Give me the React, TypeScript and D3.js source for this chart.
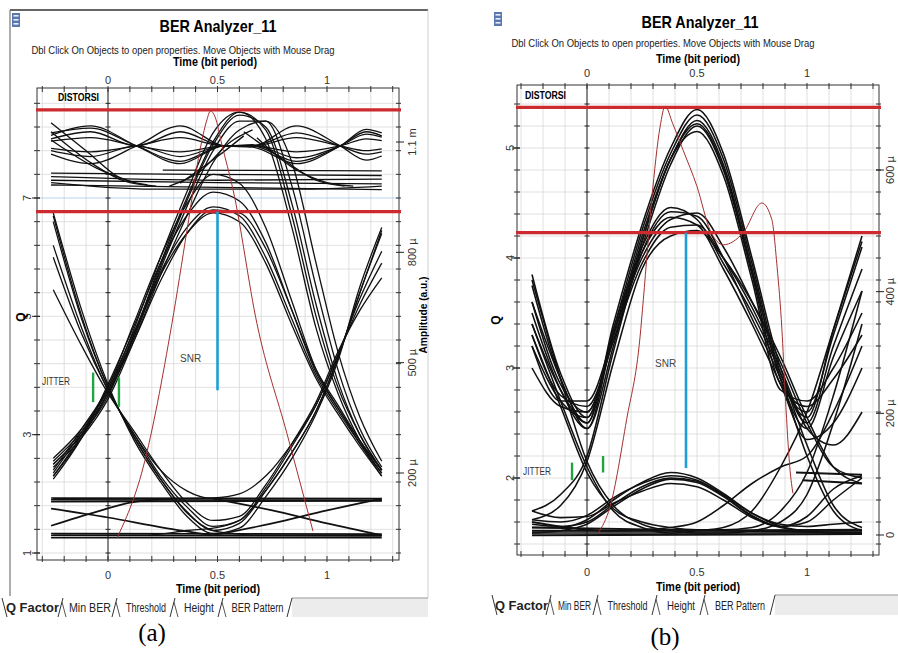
import React, { useEffect, useRef } from 'react';
import * as d3 from 'd3';

type Pt = [number, number];

const NARROW = "'Liberation Sans Narrow', 'Arial Narrow', 'Liberation Sans', Arial, sans-serif";
const SERIF = "'Liberation Serif', 'Times New Roman', serif";

const TITLE = 'BER Analyzer_11';
const SUBTITLE = 'Dbl Click On Objects to open properties.  Move Objects with Mouse Drag';
const X_TITLE = 'Time (bit period)';
const TABS = ['Q Factor', 'Min BER', 'Threshold', 'Height', 'BER Pattern'];
const TIME_TICKS = [0, 0.5, 1];

// ---------- panel (a) ----------
const A_Q_TICKS = [1, 3, 5, 7];
const A_AMP_TICKS = [200, 500, 800, 1100];
const A_AMP_LABELS = ['200 µ', '500 µ', '800 µ', '1.1 m'];
const A_RED_Q = [8.49, 6.77];
const A_SNR: [number, number, number] = [0.5, 6.77, 3.75];
const A_JITTER: [number, number, number][] = [[-0.068, 4.05, 3.55], [0.05, 3.97, 3.47]];

const A_WAVE_T = [-0.26, -0.08, 0.13, 0.33, 0.53, 0.66, 0.86, 1.06, 1.18, 1.25];
const A_WAVE_Q = [
  [8.06, 8.22, 7.88, 7.58, 7.88, 7.88, 8.22, 7.88, 7.64, 7.71],
  [8.0, 8.12, 7.88, 8.12, 7.88, 7.9, 7.68, 7.88, 8.08, 8.03],
  [7.74, 7.58, 7.88, 8.22, 7.88, 7.86, 7.58, 7.88, 8.16, 8.1],
  [7.8, 7.7, 7.88, 7.7, 7.88, 7.88, 8.1, 7.88, 7.74, 7.78],
  [7.96, 8.02, 7.88, 7.78, 7.88, 7.88, 8.02, 7.88, 7.8, 7.83],
  [7.84, 7.78, 7.88, 8.02, 7.88, 7.88, 7.78, 7.88, 8.0, 7.97],
  [8.1, 8.18, 7.88, 7.62, 7.88, 7.88, 7.62, 7.88, 8.12, 8.05],
];
const A_FLAT: Pt[][] = [
  [[-0.26, 7.42], [0.4, 7.4], [1.25, 7.38]],
  [[-0.26, 7.36], [0.5, 7.3], [1.25, 7.32]],
  [[-0.26, 7.3], [0.5, 7.26], [1.25, 7.24]],
  [[-0.26, 7.26], [0.2, 7.15], [0.9, 7.15], [1.25, 7.2]],
  [[0.25, 7.47], [1.25, 7.46]],
  [[-0.26, 7.22], [0.5, 7.18], [1.25, 7.14]],
];
const A_DROP: Pt[][] = [
  [[-0.26, 8.27], [-0.1, 7.8], [0.05, 7.35], [0.18, 7.22]],
  [[-0.26, 8.12], [-0.08, 7.6], [0.08, 7.28], [0.22, 7.2]],
  [[-0.26, 7.98], [-0.05, 7.5], [0.12, 7.26]],
  [[0.62, 8.12], [0.8, 7.65], [0.95, 7.3], [1.08, 7.2]],
  [[0.68, 8.02], [0.85, 7.5], [1.0, 7.26], [1.12, 7.2]],
  [[0.28, 7.2], [0.42, 7.45], [0.56, 7.95], [0.66, 8.15]],
  [[0.33, 7.25], [0.5, 7.7], [0.62, 8.05]],
];
const A_PULSE_T = [-0.25, -0.12, 0, 0.12, 0.24, 0.36, 0.48, 0.6, 0.72, 0.84, 0.95, 1.05, 1.15, 1.25];
const A_HIGH_Q = [
  [2.5, 3.0, 3.65, 4.7, 5.9, 7.0, 7.95, 8.45, 8.15, 6.7, 5.0, 3.8, 3.0, 2.4],
  [2.55, 3.05, 3.7, 4.65, 5.8, 6.85, 7.8, 8.3, 8.3, 7.2, 5.5, 4.1, 3.1, 2.45],
  [2.45, 2.95, 3.6, 4.6, 5.7, 6.7, 7.6, 8.15, 8.3, 7.6, 5.9, 4.4, 3.3, 2.55],
  [2.6, 3.1, 3.75, 4.8, 6.0, 7.1, 8.1, 8.45, 8.0, 6.5, 4.8, 3.7, 2.9, 2.35],
  [2.5, 3.0, 3.7, 4.7, 5.85, 6.95, 7.9, 8.4, 8.2, 6.9, 5.2, 3.9, 3.0, 2.4],
];
const A_LOW_Q = [
  [2.3, 3.0, 3.8, 4.75, 5.75, 6.5, 6.85, 6.7, 6.0, 4.95, 4.0, 3.4, 2.85, 2.35],
  [2.35, 3.05, 3.75, 4.7, 5.7, 6.4, 6.75, 6.6, 5.9, 4.85, 3.95, 3.35, 2.8, 2.3],
  [2.25, 2.95, 3.85, 4.85, 5.9, 6.7, 7.1, 6.95, 6.25, 5.1, 4.05, 3.45, 2.9, 2.4],
  [2.4, 3.1, 3.8, 4.9, 6.0, 6.9, 7.4, 7.25, 6.5, 5.25, 4.1, 3.45, 2.85, 2.3],
  [2.3, 2.95, 3.7, 4.6, 5.6, 6.4, 6.8, 6.75, 6.15, 5.1, 4.1, 3.5, 2.9, 2.4],
];
const A_EDGE_Q = [
  [6.7, 5.0, 3.8, 2.95, 2.25, 1.7, 1.38, 1.5, 2.05, 2.7, 3.4, 4.3, 5.4, 6.45],
  [6.0, 4.7, 3.75, 3.0, 2.3, 1.78, 1.45, 1.55, 2.1, 2.8, 3.5, 4.35, 5.2, 5.9],
  [5.45, 4.5, 3.7, 3.05, 2.4, 1.85, 1.55, 1.62, 2.15, 2.85, 3.55, 4.4, 5.1, 5.65],
  [6.75, 5.1, 3.85, 2.9, 2.2, 1.62, 1.33, 1.42, 1.95, 2.6, 3.35, 4.25, 5.5, 6.5],
  [6.6, 4.95, 3.8, 2.95, 2.25, 1.68, 1.38, 1.32, 1.3, 1.3, 1.3, 1.3, 1.3, 1.3],
  [6.2, 4.8, 3.75, 3.0, 2.4, 2.05, 1.92, 1.92, 1.92, 1.92, 1.92, 1.92, 1.92, 1.92],
  [1.3, 1.3, 1.3, 1.3, 1.32, 1.38, 1.42, 1.55, 2.05, 2.7, 3.4, 4.3, 5.4, 6.4],
  [1.92, 1.92, 1.92, 1.92, 1.92, 1.92, 1.93, 2.0, 2.3, 2.85, 3.5, 4.35, 5.3, 6.1],
];
const A_LEVELS: Pt[][] = [
  [[-0.26, 1.93], [1.25, 1.92]],
  [[-0.26, 1.9], [1.25, 1.89]],
  [[-0.26, 1.87], [1.25, 1.88]],
  [[-0.26, 1.33], [1.25, 1.32]],
  [[-0.26, 1.3], [1.25, 1.29]],
  [[-0.26, 1.26], [1.25, 1.26]],
  [[-0.26, 1.46], [-0.05, 1.7], [0.1, 1.85], [0.3, 1.92]],
  [[-0.26, 1.75], [0.0, 1.6], [0.25, 1.43], [0.48, 1.3]],
  [[0.48, 1.3], [0.75, 1.5], [1.0, 1.72], [1.25, 1.92]],
  [[0.48, 1.92], [0.75, 1.72], [1.0, 1.5], [1.25, 1.3]],
];
const A_BROWN: Pt[] = [
  [0.041, 1.25], [0.16, 2.44], [0.292, 4.88], [0.361, 6.46], [0.42, 7.81], [0.45, 8.3],
  [0.468, 8.47], [0.489, 8.37], [0.52, 7.9], [0.571, 7.14], [0.68, 4.88], [0.817, 3.02], [0.936, 1.37],
];

// ---------- panel (b) ----------
const B_Q_TICKS = [2, 3, 4, 5];
const B_AMP_TICKS = [0, 200, 400, 600];
const B_AMP_LABELS = ['0', '200 µ', '400 µ', '600 µ'];
const B_RED_Q = [5.37, 4.23];
const B_SNR: [number, number, number] = [0.45, 4.23, 2.09];
const B_JITTER: [number, number, number][] = [[-0.068, 2.14, 1.98], [0.073, 2.2, 2.05]];

const B_PULSE_T = [-0.25, -0.12, 0, 0.12, 0.25, 0.38, 0.5, 0.62, 0.75, 0.88, 1.0, 1.12, 1.25];
const B_HIGH_Q = [
  [3.85, 2.95, 2.55, 3.35, 4.25, 4.95, 5.3, 4.9, 3.95, 2.95, 2.55, 3.35, 4.2],
  [3.6, 2.85, 2.6, 3.3, 4.2, 4.9, 5.25, 4.85, 3.9, 2.9, 2.6, 3.3, 4.1],
  [3.3, 2.75, 2.65, 3.25, 4.1, 4.85, 5.2, 4.8, 3.85, 2.85, 2.65, 2.9, 3.3],
  [3.2, 2.7, 2.7, 3.3, 4.15, 4.9, 5.15, 4.75, 3.8, 2.8, 2.7, 3.0, 3.5],
  [3.75, 2.9, 2.5, 3.4, 4.3, 5.0, 5.35, 4.95, 4.0, 3.0, 2.5, 3.2, 3.9],
  [3.5, 2.8, 2.45, 3.2, 4.15, 4.9, 5.22, 4.82, 3.88, 2.9, 2.45, 3.1, 3.7],
];
const B_MID_Q = [
  [3.4, 2.8, 2.5, 3.35, 4.1, 4.46, 4.35, 3.95, 3.5, 2.95, 2.3, 1.75, 1.55],
  [3.2, 2.7, 2.55, 3.3, 4.0, 4.35, 4.41, 4.1, 3.6, 3.05, 2.5, 2.1, 2.0],
  [3.0, 2.65, 2.6, 3.25, 3.95, 4.28, 4.3, 4.0, 3.55, 3.0, 2.45, 2.3, 2.6],
  [3.6, 2.9, 2.45, 3.3, 4.05, 4.37, 4.3, 3.9, 3.4, 2.85, 2.35, 2.5, 3.0],
  [1.62, 1.75, 2.15, 3.05, 3.9, 4.2, 4.25, 4.0, 3.6, 3.1, 2.55, 2.1, 1.95],
  [1.7, 1.85, 2.2, 3.15, 4.05, 4.42, 4.38, 4.0, 3.45, 2.9, 2.2, 1.7, 1.52],
];
const B_EDGE_Q = [
  [3.8, 2.9, 2.15, 1.75, 1.58, 1.52, 1.5, 1.5, 1.5, 1.5, 1.5, 1.5, 1.5],
  [3.4, 2.7, 2.1, 1.7, 1.55, 1.5, 1.5, 1.5, 1.52, 1.6, 1.85, 2.5, 3.4],
  [3.3, 2.65, 2.05, 1.72, 1.6, 1.55, 1.53, 1.53, 1.55, 1.7, 2.05, 2.75, 3.7],
  [1.5, 1.5, 1.5, 1.5, 1.5, 1.5, 1.52, 1.55, 1.7, 2.1, 2.6, 3.35, 4.15],
  [1.52, 1.52, 1.52, 1.52, 1.53, 1.55, 1.6, 1.75, 1.95, 2.1, 2.2, 2.6, 3.2],
];
const B_HUMP_Q = [
  [1.55, 1.55, 1.62, 1.8, 1.96, 2.05, 2.0, 1.86, 1.68, 1.56, 1.52, 1.5, 1.5],
  [1.5, 1.52, 1.58, 1.74, 1.9, 1.99, 1.96, 1.83, 1.65, 1.55, 1.52, 1.52, 1.52],
  [1.62, 1.6, 1.66, 1.82, 1.95, 2.02, 1.98, 1.85, 1.68, 1.58, 1.56, 1.58, 1.6],
  [1.7, 1.64, 1.65, 1.77, 1.88, 1.95, 1.92, 1.8, 1.64, 1.56, 1.6, 1.8, 2.0],
  [1.58, 1.56, 1.6, 1.76, 1.92, 2.0, 1.97, 1.84, 1.66, 1.56, 1.65, 1.9, 2.02],
];
const B_LEVELS: Pt[][] = [
  [[-0.25, 1.52], [1.25, 1.52]],
  [[-0.25, 1.55], [1.25, 1.5]],
  [[-0.25, 1.48], [1.25, 1.49]],
  [[-0.25, 1.6], [0.1, 1.52], [1.25, 1.53]],
  [[0.95, 2.05], [1.25, 2.03]],
  [[0.98, 1.98], [1.25, 1.95]],
];
const B_BROWN: Pt[] = [
  [0.051, 1.5], [0.105, 1.74], [0.18, 2.53], [0.241, 3.28], [0.256, 3.62], [0.294, 4.53], [0.332, 5.19],
  [0.355, 5.38], [0.39, 5.22], [0.437, 4.98], [0.5, 4.65], [0.56, 4.25], [0.62, 4.12], [0.71, 4.23],
  [0.795, 4.5], [0.84, 4.35], [0.864, 3.92], [0.886, 3.35], [0.9, 2.8], [0.923, 2.07], [0.936, 1.86],
];

const rowsToLines = (t: number[], rows: number[][]): Pt[][] => rows.map(r => r.map((q, i) => [t[i], q] as Pt));

const PANELS = [
  {
    id: 'a',
    frame: { x0: 37, x1: 399, y0: 88, y1: 560 },
    xRange: [108, 327], qDomain: [1, 7], qRange: [553, 198],
    gridQ: [1, 8.6, 0.4], blueGridQ: 7,
    qTicks: A_Q_TICKS, qLabelX: 31, qTitle: [25, 317],
    ampDomain: [200, 1100], ampRange: [473, 142], ampTicks: A_AMP_TICKS, ampLabels: A_AMP_LABELS,
    ampLabelX: 416, ampTitle: [427, 315],
    red: A_RED_Q, snr: A_SNR, jitter: A_JITTER,
    traces: [
      ...rowsToLines(A_WAVE_T, A_WAVE_Q), ...A_FLAT, ...A_DROP,
      ...rowsToLines(A_PULSE_T, A_HIGH_Q), ...rowsToLines(A_PULSE_T, A_LOW_Q),
      ...rowsToLines(A_PULSE_T, A_EDGE_Q),
    ],
    levels: A_LEVELS, brown: A_BROWN, traceW: 1.3,
    title: [218, 32], sub: [183, 54], subW: 303, xTitleTop: [215, 66], xTitleBot: [218, 593],
    tickTop: 84, tickBot: 579,
    distorsi: [58, 101], jitterText: [42, 385], snrText: [180, 362],
    tabs: [2, 63, 117, 175, 223, 292], tabW: [53, 42, 40, 30, 52], tabY: [598, 617], tabEnd: 428,
    caption: ['(a)', 152, 641],
    chrome: true, icon: [12, 13],
  },
  {
    id: 'b',
    frame: { x0: 517, x1: 879, y0: 85, y1: 555 },
    xRange: [587, 807], qDomain: [2, 5], qRange: [478, 148],
    gridQ: [1.4, 5.4, 0.2], blueGridQ: null,
    qTicks: B_Q_TICKS, qLabelX: 514, qTitle: [500, 320],
    ampDomain: [0, 600], ampRange: [535, 170], ampTicks: B_AMP_TICKS, ampLabels: B_AMP_LABELS,
    ampLabelX: 894, ampTitle: null,
    red: B_RED_Q, snr: B_SNR, jitter: B_JITTER,
    traces: [
      ...rowsToLines(B_PULSE_T, B_HIGH_Q), ...rowsToLines(B_PULSE_T, B_MID_Q),
      ...rowsToLines(B_PULSE_T, B_EDGE_Q), ...rowsToLines(B_PULSE_T, B_HUMP_Q),
    ],
    levels: B_LEVELS, brown: B_BROWN, traceW: 1.55,
    title: [700, 28], sub: [663, 47], subW: 303, xTitleTop: [698, 63], xTitleBot: [698, 591],
    tickTop: 77, tickBot: 576,
    distorsi: [525, 99], jitterText: [523, 475], snrText: [655, 367],
    tabs: [492, 551, 598, 657, 705, 775], tabW: [53, 33, 40, 28, 50], tabY: [595, 615], tabEnd: 898,
    caption: ['(b)', 665, 645],
    chrome: false, icon: [494, 12],
  },
];

function drawPanel(svg: any, P: any) {
  const g = svg.append('g');
  const x = d3.scaleLinear().domain([0, 1]).range(P.xRange);
  const y = d3.scaleLinear().domain(P.qDomain).range(P.qRange);
  const amp = d3.scaleLinear().domain(P.ampDomain).range(P.ampRange);
  const { x0, x1, y0, y1 } = P.frame;

  const clipId = `clip-${P.id}`;
  g.append('clipPath').attr('id', clipId).append('rect')
    .attr('x', x0).attr('y', y0).attr('width', x1 - x0).attr('height', y1 - y0);

  // window chrome
  if (P.chrome) {
    g.append('line').attr('x1', 10).attr('x2', 428).attr('y1', 10).attr('y2', 10).attr('stroke', '#666').attr('stroke-width', 2);
    g.append('line').attr('x1', 10).attr('x2', 10).attr('y1', 10).attr('y2', 596).attr('stroke', '#777').attr('stroke-width', 1.2);
    g.append('line').attr('x1', 428).attr('x2', 428).attr('y1', 10).attr('y2', 598).attr('stroke', '#d0d0d0');
  }
  const [ix, iy] = P.icon;
  g.append('rect').attr('x', ix).attr('y', iy).attr('width', 8).attr('height', 14).attr('fill', '#5a78b0');
  [3, 7, 11].forEach(d => g.append('rect').attr('x', ix + 1.5).attr('y', iy + d - 1).attr('width', 5).attr('height', 1.6).attr('fill', '#e8eef8'));

  // titles
  g.append('text').attr('x', P.title[0]).attr('y', P.title[1]).attr('text-anchor', 'middle')
    .style('font-family', NARROW).style('font-size', '17px').style('font-weight', 'bold')
    .attr('textLength', 117).attr('lengthAdjust', 'spacingAndGlyphs').text(TITLE);
  g.append('text').attr('x', P.sub[0]).attr('y', P.sub[1]).attr('text-anchor', 'middle')
    .style('font-family', NARROW).style('font-size', '11px').style('fill', '#222')
    .attr('textLength', P.subW).attr('lengthAdjust', 'spacingAndGlyphs').text(SUBTITLE);
  [P.xTitleTop, P.xTitleBot].forEach(([tx, ty]: number[]) => {
    g.append('text').attr('x', tx).attr('y', ty).attr('text-anchor', 'middle')
      .style('font-family', NARROW).style('font-size', '12px').style('font-weight', 'bold')
      .attr('textLength', 84).attr('lengthAdjust', 'spacingAndGlyphs').text(X_TITLE);
  });

  // grid
  const tGrid = d3.range(-3, 14).map(i => i / 10).filter(t => x(t) > x0 + 1 && x(t) < x1 - 1);
  const [gq0, gq1, gqs] = P.gridQ;
  const qGrid = d3.range(gq0, gq1 + 1e-6, gqs).filter(q => y(q) > y0 + 1 && y(q) < y1 - 1);
  g.append('rect').attr('x', x0).attr('y', y0).attr('width', x1 - x0).attr('height', y1 - y0).attr('fill', '#fff');
  tGrid.forEach(t => g.append('line').attr('x1', x(t)).attr('x2', x(t)).attr('y1', y0).attr('y2', y1)
    .attr('stroke', '#d8d8d8').attr('stroke-width', 0.8));
  qGrid.forEach(q => g.append('line').attr('x1', x0).attr('x2', x1).attr('y1', y(q)).attr('y2', y(q))
    .attr('stroke', P.blueGridQ !== null && Math.abs(q - P.blueGridQ) < 1e-6 ? '#a9c8ea' : '#d8d8d8').attr('stroke-width', 0.8));
  // inner axis at t = 0
  g.append('line').attr('x1', x(0)).attr('x2', x(0)).attr('y1', y0).attr('y2', y1).attr('stroke', '#222').attr('stroke-width', 1);
  qGrid.forEach(q => g.append('line').attr('x1', x(0) - 2.5).attr('x2', x(0) + 2.5).attr('y1', y(q)).attr('y2', y(q)).attr('stroke', '#222'));

  // frame + ticks
  g.append('rect').attr('x', x0).attr('y', y0).attr('width', x1 - x0).attr('height', y1 - y0)
    .attr('fill', 'none').attr('stroke', '#333').attr('stroke-width', 1);
  tGrid.forEach(t => {
    g.append('line').attr('x1', x(t)).attr('x2', x(t)).attr('y1', y0 - 2).attr('y2', y0 + 4).attr('stroke', '#333');
    g.append('line').attr('x1', x(t)).attr('x2', x(t)).attr('y1', y1 - 4).attr('y2', y1 + 2).attr('stroke', '#333');
  });
  qGrid.forEach(q => {
    g.append('line').attr('x1', x0 - 3).attr('x2', x0 + 3).attr('y1', y(q)).attr('y2', y(q)).attr('stroke', '#333');
    g.append('line').attr('x1', x1 - 3).attr('x2', x1 + 2).attr('y1', y(q)).attr('y2', y(q)).attr('stroke', '#333');
  });
  P.qTicks.forEach((q: number) => g.append('line').attr('x1', x0 - 5).attr('x2', x0 + 3).attr('y1', y(q)).attr('y2', y(q)).attr('stroke', '#222'));
  P.ampTicks.forEach((a: number) => g.append('line').attr('x1', x1 - 3).attr('x2', x1 + 5).attr('y1', amp(a)).attr('y2', amp(a)).attr('stroke', '#222'));

  // tick labels
  TIME_TICKS.forEach(t => {
    [P.tickTop, P.tickBot].forEach((ty: number) => g.append('text').attr('x', x(t)).attr('y', ty).attr('text-anchor', 'middle')
      .style('font-family', NARROW).style('font-size', '11px').style('fill', '#333').text(String(t)));
  });
  P.qTicks.forEach((q: number) => g.append('text').attr('transform', `translate(${P.qLabelX},${y(q)}) rotate(-90)`)
    .attr('text-anchor', 'middle').style('font-family', NARROW).style('font-size', '11px').style('fill', '#333').text(String(q)));
  g.append('text').attr('transform', `translate(${P.qTitle[0]},${P.qTitle[1]}) rotate(-90)`)
    .attr('text-anchor', 'middle').style('font-family', NARROW).style('font-size', '12px').style('font-weight', 'bold').text('Q');
  P.ampTicks.forEach((a: number, i: number) => g.append('text').attr('transform', `translate(${P.ampLabelX},${amp(a)}) rotate(-90)`)
    .attr('text-anchor', 'middle').style('font-family', NARROW).style('font-size', '11px').style('fill', '#333').text(P.ampLabels[i]));
  if (P.ampTitle) {
    g.append('text').attr('transform', `translate(${P.ampTitle[0]},${P.ampTitle[1]}) rotate(-90)`)
      .attr('text-anchor', 'middle').style('font-family', NARROW).style('font-size', '11px').style('font-weight', 'bold')
      .attr('textLength', 77).attr('lengthAdjust', 'spacingAndGlyphs').text('Amplitude (a.u.)');
  }

  // eye traces
  const plot = g.append('g').attr('clip-path', `url(#${clipId})`);
  const smooth = d3.line<Pt>().x(d => x(d[0])).y(d => y(d[1])).curve(d3.curveMonotoneX);
  P.traces.forEach((pts: Pt[]) => plot.append('path').attr('d', smooth(pts))
    .attr('fill', 'none').attr('stroke', '#111').attr('stroke-width', P.traceW));
  P.levels.forEach((pts: Pt[]) => plot.append('path').attr('d', smooth(pts))
    .attr('fill', 'none').attr('stroke', '#111').attr('stroke-width', P.traceW + 0.4));
  plot.append('path').attr('d', smooth(P.brown)).attr('fill', 'none').attr('stroke', '#a3302e').attr('stroke-width', 1);

  // annotations
  P.red.forEach((q: number) => g.append('line').attr('x1', x0 - 1).attr('x2', x1 + 2).attr('y1', y(q)).attr('y2', y(q))
    .attr('stroke', '#cc2a2f').attr('stroke-width', 3.2));
  const [st, sq0, sq1] = P.snr;
  g.append('line').attr('x1', x(st)).attr('x2', x(st)).attr('y1', y(sq0)).attr('y2', y(sq1))
    .attr('stroke', '#1f9ed6').attr('stroke-width', 2.6);
  P.jitter.forEach(([jt, jq0, jq1]: number[]) => g.append('line').attr('x1', x(jt)).attr('x2', x(jt))
    .attr('y1', y(jq0)).attr('y2', y(jq1)).attr('stroke', '#25a244').attr('stroke-width', 2.4));
  g.append('text').attr('x', P.distorsi[0]).attr('y', P.distorsi[1]).style('font-family', NARROW)
    .style('font-size', '10.5px').style('font-weight', 'bold').attr('textLength', 41).attr('lengthAdjust', 'spacingAndGlyphs').text('DISTORSI');
  g.append('text').attr('x', P.jitterText[0]).attr('y', P.jitterText[1]).style('font-family', NARROW)
    .style('font-size', '10px').style('fill', '#333').attr('textLength', 28).attr('lengthAdjust', 'spacingAndGlyphs').text('JITTER');
  g.append('text').attr('x', P.snrText[0]).attr('y', P.snrText[1]).style('font-family', NARROW)
    .style('font-size', '10px').style('fill', '#444').text('SNR');

  // tab strip
  const [ty0, ty1] = P.tabY;
  const tb = P.tabs;
  g.append('rect').attr('x', tb[tb.length - 1]).attr('y', ty0).attr('width', P.tabEnd - tb[tb.length - 1]).attr('height', ty1 - ty0)
    .attr('fill', '#ececec');
  g.append('line').attr('x1', tb[tb.length - 1]).attr('x2', P.tabEnd).attr('y1', ty0).attr('y2', ty0).attr('stroke', '#999');
  tb.forEach((b: number, i: number) => {
    if (i === 0) {
      g.append('line').attr('x1', b).attr('x2', b + 5).attr('y1', ty0).attr('y2', ty1).attr('stroke', '#333');
    } else if (i === tb.length - 1) {
      g.append('line').attr('x1', b - 5).attr('x2', b).attr('y1', ty1).attr('y2', ty0).attr('stroke', '#333');
    } else {
      g.append('line').attr('x1', b - 5).attr('x2', b).attr('y1', ty1).attr('y2', ty0).attr('stroke', '#333');
      g.append('line').attr('x1', b - 1).attr('x2', b + 3).attr('y1', ty0 + 4).attr('y2', ty1).attr('stroke', '#555');
    }
  });
  TABS.forEach((label, i) => {
    const cx = (tb[i] + tb[i + 1]) / 2;
    g.append('text').attr('x', cx).attr('y', ty1 - 5).attr('text-anchor', 'middle')
      .style('font-family', NARROW).style('font-size', '12px').style('font-weight', i === 0 ? 'bold' : 'normal')
      .style('fill', '#222').attr('textLength', P.tabW[i]).attr('lengthAdjust', 'spacingAndGlyphs').text(label);
  });

  // caption
  g.append('text').attr('x', P.caption[1]).attr('y', P.caption[2]).attr('text-anchor', 'middle')
    .style('font-family', SERIF).style('font-size', '25px').text(P.caption[0]);
}

export default function App() {
  const ref = useRef<SVGSVGElement>(null);

  useEffect(() => {
    const svg = d3.select(ref.current);
    svg.selectAll('*').remove();
    PANELS.forEach(p => drawPanel(svg, p));
  }, []);

  return (
    <svg ref={ref} width={898} height={653}
      style={{ position: 'absolute', left: 0, top: 0, background: '#fff', display: 'block' }} />
  );
}
